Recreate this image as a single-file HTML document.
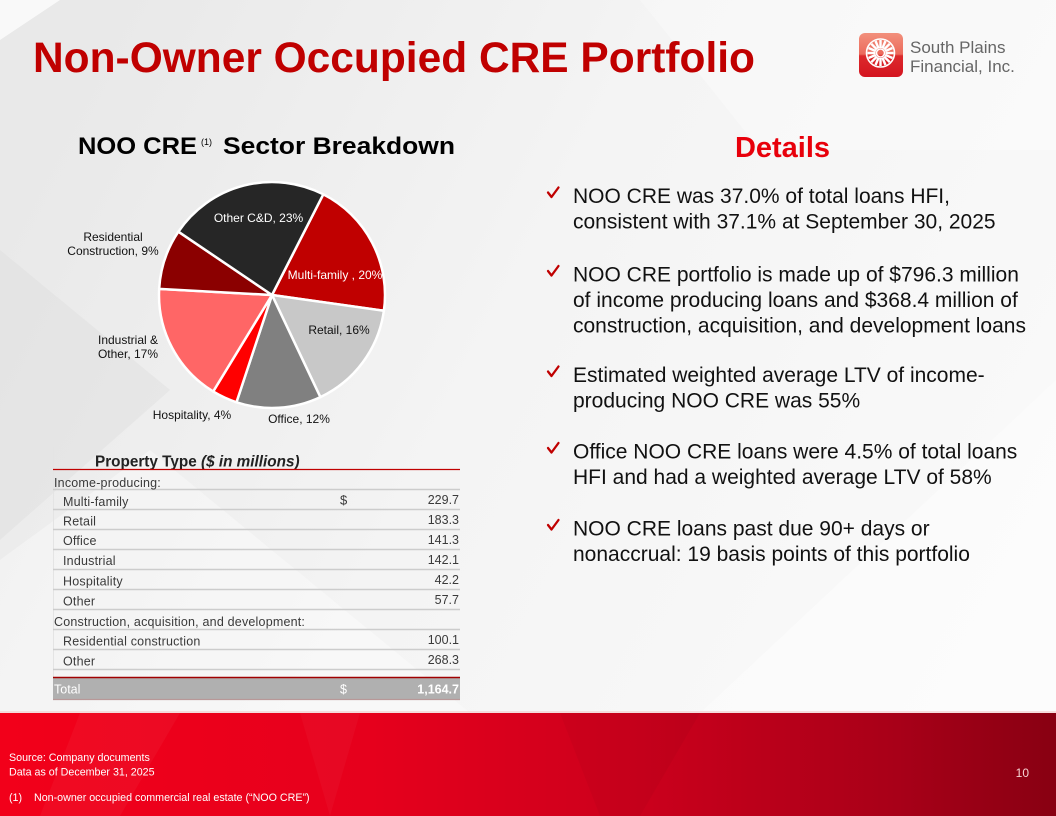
<!DOCTYPE html>
<html>
<head>
<meta charset="utf-8">
<style>
  html, body { margin: 0; padding: 0; width: 1056px; height: 816px; overflow: hidden; background: #f2f2f2; }
  svg { display: block; }
  text { font-family: "Liberation Sans", Arial, sans-serif; }
</style>
</head>
<body>
<svg width="1056" height="816" viewBox="0 0 1056 816" xmlns="http://www.w3.org/2000/svg">
  <defs>
    <linearGradient id="bg" x1="0" y1="0.3" x2="1" y2="0.7">
      <stop offset="0" stop-color="#e9e9e9"/>
      <stop offset="0.45" stop-color="#f4f4f4"/>
      <stop offset="1" stop-color="#fafafa"/>
    </linearGradient>
    <linearGradient id="foot" x1="0" y1="0" x2="1" y2="0">
      <stop offset="0" stop-color="#f2001a"/>
      <stop offset="0.35" stop-color="#e6001c"/>
      <stop offset="0.6" stop-color="#cc001c"/>
      <stop offset="0.85" stop-color="#a80018"/>
      <stop offset="1" stop-color="#880012"/>
    </linearGradient>
    <linearGradient id="logo" x1="0" y1="0" x2="0" y2="1">
      <stop offset="0" stop-color="#f2907c"/>
      <stop offset="0.48" stop-color="#ec6a5c"/>
      <stop offset="0.52" stop-color="#dc2a2c"/>
      <stop offset="1" stop-color="#d41420"/>
    </linearGradient>
  </defs>

  <!-- background -->
  <rect x="0" y="0" width="1056" height="816" fill="url(#bg)"/>
  <polygon points="0,0 60,0 0,40" fill="#ffffff" opacity="0.7"/>
  <polygon points="0,250 170,390 0,540" fill="#dedede" opacity="0.45"/>
  <polygon points="0,560 150,450 470,713 0,713" fill="#ffffff" opacity="0.35"/>
  <polygon points="700,713 1056,380 1056,713" fill="#ffffff" opacity="0.4"/>
  <polygon points="640,0 1056,0 1056,150 760,150" fill="#ffffff" opacity="0.3"/>

  <!-- title -->
  <text x="33" y="72" font-size="42.5" font-weight="bold" fill="#c00000" textLength="722" lengthAdjust="spacingAndGlyphs">Non-Owner Occupied CRE Portfolio</text>

  <!-- logo -->
  <rect x="859" y="33" width="44" height="44" rx="6" ry="6" fill="url(#logo)"/>
  <g transform="translate(880.5,53)" stroke="#ffffff" fill="none">
    <circle r="14" stroke-width="1.6"/>
    <g stroke-width="2.4">
      <line x1="0" y1="-5" x2="0" y2="-13"/>
      <line x1="0" y1="-5" x2="0" y2="-13" transform="rotate(22.5)"/>
      <line x1="0" y1="-5" x2="0" y2="-13" transform="rotate(45)"/>
      <line x1="0" y1="-5" x2="0" y2="-13" transform="rotate(67.5)"/>
      <line x1="0" y1="-5" x2="0" y2="-13" transform="rotate(90)"/>
      <line x1="0" y1="-5" x2="0" y2="-13" transform="rotate(112.5)"/>
      <line x1="0" y1="-5" x2="0" y2="-13" transform="rotate(135)"/>
      <line x1="0" y1="-5" x2="0" y2="-13" transform="rotate(157.5)"/>
      <line x1="0" y1="-5" x2="0" y2="-13" transform="rotate(180)"/>
      <line x1="0" y1="-5" x2="0" y2="-13" transform="rotate(202.5)"/>
      <line x1="0" y1="-5" x2="0" y2="-13" transform="rotate(225)"/>
      <line x1="0" y1="-5" x2="0" y2="-13" transform="rotate(247.5)"/>
      <line x1="0" y1="-5" x2="0" y2="-13" transform="rotate(270)"/>
      <line x1="0" y1="-5" x2="0" y2="-13" transform="rotate(292.5)"/>
      <line x1="0" y1="-5" x2="0" y2="-13" transform="rotate(315)"/>
      <line x1="0" y1="-5" x2="0" y2="-13" transform="rotate(337.5)"/>
    </g>
    <circle r="4" stroke-width="1.5"/>
  </g>
  <text x="910" y="53" font-size="17" fill="#666666">South Plains</text>
  <text x="910" y="72" font-size="17" fill="#666666">Financial, Inc.</text>

  <!-- chart heading -->
  <text x="78" y="154" font-size="24" font-weight="bold" fill="#000000" textLength="119" lengthAdjust="spacingAndGlyphs">NOO CRE</text>
  <text x="201" y="145" font-size="9" fill="#000000">(1)</text>
  <text x="223" y="154" font-size="24" font-weight="bold" fill="#000000" textLength="232" lengthAdjust="spacingAndGlyphs">Sector Breakdown</text>

  <!-- pie -->
  <g stroke="#ffffff" stroke-width="2.5" stroke-linejoin="round">
    <path d="M272,295 L323.30,194.32 A113,113 0 0 1 383.90,310.73 Z" fill="#c00000"/>
    <path d="M272,295 L383.90,310.73 A113,113 0 0 1 320.36,397.13 Z" fill="#c8c8c8"/>
    <path d="M272,295 L320.36,397.13 A113,113 0 0 1 236.46,402.27 Z" fill="#808080"/>
    <path d="M272,295 L236.46,402.27 A113,113 0 0 1 213.17,391.48 Z" fill="#ff0000"/>
    <path d="M272,295 L213.17,391.48 A113,113 0 0 1 159.17,288.83 Z" fill="#ff6666"/>
    <path d="M272,295 L159.17,288.83 A113,113 0 0 1 178.40,231.69 Z" fill="#8b0000"/>
    <path d="M272,295 L178.40,231.69 A113,113 0 0 1 323.30,194.32 Z" fill="#262626"/>
  </g>
  <g font-size="12" text-anchor="middle">
    <text x="258.5" y="222" fill="#ffffff">Other C&amp;D, 23%</text>
    <text x="335" y="279" fill="#ffffff">Multi-family , 20%</text>
    <text x="339" y="334" fill="#111111">Retail, 16%</text>
    <text x="299" y="423" fill="#111111">Office, 12%</text>
    <text x="192" y="419" fill="#111111">Hospitality, 4%</text>
    <text x="128" y="344" fill="#111111">Industrial &amp;</text>
    <text x="128" y="358" fill="#111111">Other, 17%</text>
    <text x="113" y="241" fill="#111111">Residential</text>
    <text x="113" y="255" fill="#111111">Construction, 9%</text>
  </g>

  <!-- table -->
  <line x1="53.5" y1="447" x2="53.5" y2="700" stroke="#e4e4e4" stroke-width="1"/>
  <text x="95" y="466.5" font-size="15.3" font-weight="bold" fill="#222222">Property Type <tspan font-style="italic">($ in millions)</tspan></text>
  <line x1="53" y1="469.5" x2="460" y2="469.5" stroke="#c00000" stroke-width="1.3"/>
  <g stroke="#cccccc" stroke-width="1.5">
    <line x1="53" y1="489.5" x2="460" y2="489.5"/>
    <line x1="53" y1="509.5" x2="460" y2="509.5"/>
    <line x1="53" y1="529.5" x2="460" y2="529.5"/>
    <line x1="53" y1="549.5" x2="460" y2="549.5"/>
    <line x1="53" y1="569.5" x2="460" y2="569.5"/>
    <line x1="53" y1="589.5" x2="460" y2="589.5"/>
    <line x1="53" y1="609.5" x2="460" y2="609.5"/>
    <line x1="53" y1="629.5" x2="460" y2="629.5"/>
    <line x1="53" y1="649.5" x2="460" y2="649.5"/>
    <line x1="53" y1="669.5" x2="460" y2="669.5"/>
  </g>
  <g font-size="12.5" fill="#3a3a3a" letter-spacing="0.2">
    <text x="54" y="487">Income-producing:</text>
    <text x="63" y="506">Multi-family</text>
    <text x="63" y="525.5">Retail</text>
    <text x="63" y="545">Office</text>
    <text x="63" y="565">Industrial</text>
    <text x="63" y="585.5">Hospitality</text>
    <text x="63" y="605.5">Other</text>
    <text x="54" y="626">Construction, acquisition, and development:</text>
    <text x="63" y="645.5">Residential construction</text>
    <text x="63" y="665.5">Other</text>
    <text x="340" y="504.5" font-size="13">$</text>
  </g>
  <g font-size="12.5" fill="#3a3a3a" text-anchor="end">
    <text x="459" y="504">229.7</text>
    <text x="459" y="524">183.3</text>
    <text x="459" y="544">141.3</text>
    <text x="459" y="564">142.1</text>
    <text x="459" y="584">42.2</text>
    <text x="459" y="604">57.7</text>
    <text x="459" y="644">100.1</text>
    <text x="459" y="664">268.3</text>
  </g>
  <rect x="53" y="677.5" width="407" height="21.5" fill="#b0b0b0"/>
  <line x1="53" y1="677.5" x2="460" y2="677.5" stroke="#a00000" stroke-width="1.5"/>
  <line x1="53" y1="699.5" x2="460" y2="699.5" stroke="#b89898" stroke-width="1.2"/>
  <text x="54" y="693.5" font-size="12.5" fill="#ffffff">Total</text>
  <text x="340" y="693.5" font-size="12.5" fill="#ffffff">$</text>
  <text x="459" y="693.5" font-size="12.5" font-weight="bold" fill="#ffffff" text-anchor="end">1,164.7</text>

  <!-- details -->
  <text x="782.5" y="157" font-size="29" font-weight="bold" fill="#e8000b" text-anchor="middle">Details</text>
  <g fill="none" stroke="#c00000" stroke-width="2.3" stroke-linecap="round" stroke-linejoin="round">
    <path d="M548,192.5 L551.5,197 L558.5,187.5"/>
    <path d="M548,271 L551.5,275.5 L558.5,266"/>
    <path d="M548,371.5 L551.5,376 L558.5,366.5"/>
    <path d="M548,448 L551.5,452.5 L558.5,443"/>
    <path d="M548,525 L551.5,529.5 L558.5,520"/>
  </g>
  <g font-size="21" fill="#111111">
    <text x="573" y="203">NOO CRE was 37.0% of total loans HFI,</text>
    <text x="573" y="228.5">consistent with 37.1% at September 30, 2025</text>
    <text x="573" y="281.5">NOO CRE portfolio is made up of $796.3 million</text>
    <text x="573" y="307">of income producing loans and $368.4 million of</text>
    <text x="573" y="332.5">construction, acquisition, and development loans</text>
    <text x="573" y="382">Estimated weighted average LTV of income-</text>
    <text x="573" y="407.5">producing NOO CRE was 55%</text>
    <text x="573" y="458.5">Office NOO CRE loans were 4.5% of total loans</text>
    <text x="573" y="484">HFI and had a weighted average LTV of 58%</text>
    <text x="573" y="535.5">NOO CRE loans past due 90+ days or</text>
    <text x="573" y="561">nonaccrual: 19 basis points of this portfolio</text>
  </g>

  <!-- footer -->
  <rect x="0" y="711" width="1056" height="3" fill="#f4d4d4" opacity="0.8"/>
  <rect x="0" y="713" width="1056" height="103" fill="url(#foot)"/>
  <polygon points="80,713 180,713 120,816 40,816" fill="#ffffff" opacity="0.04"/>
  <polygon points="560,713 700,713 640,816 600,816" fill="#000000" opacity="0.03"/>
  <polygon points="300,713 360,713 330,816" fill="#ffffff" opacity="0.03"/>
  <g font-size="10.7" fill="#ffffff">
    <text x="9" y="761">Source: Company documents</text>
    <text x="9" y="775.5">Data as of December 31, 2025</text>
    <text x="9" y="801">(1)</text>
    <text x="34" y="801">Non-owner occupied commercial real estate (“NOO CRE”)</text>
  </g>
  <text x="1029" y="777" font-size="12" fill="#f6d4d4" text-anchor="end">10</text>
</svg>
</body>
</html>
